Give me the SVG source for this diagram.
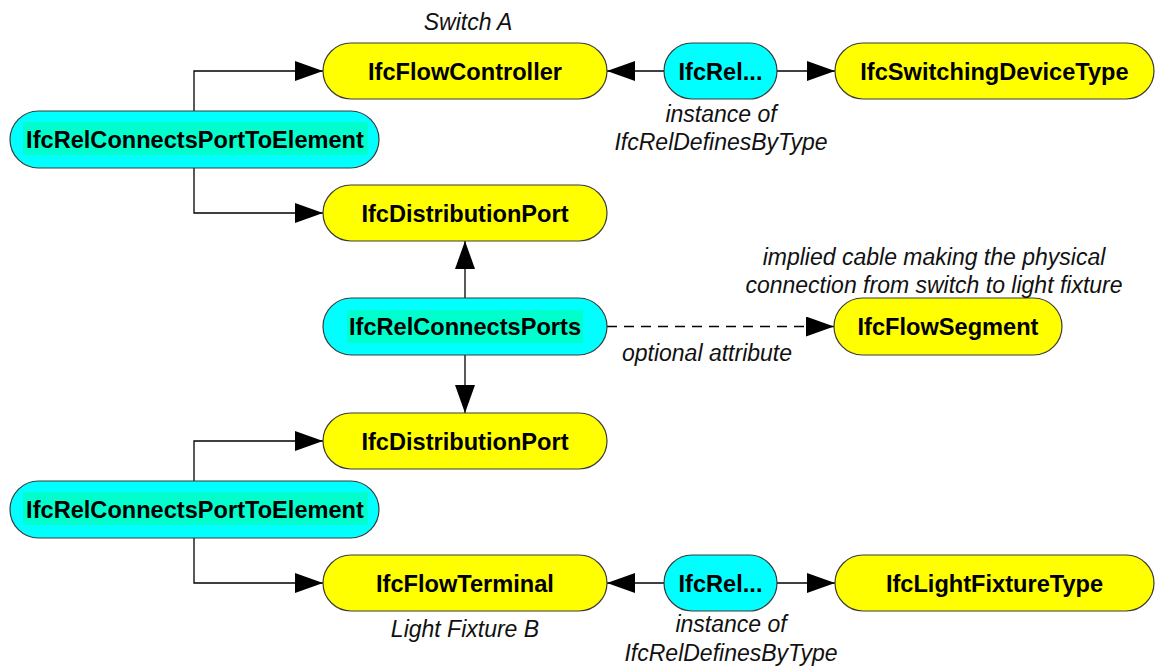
<svg xmlns="http://www.w3.org/2000/svg" width="1156" height="669" viewBox="0 0 1156 669">
  <style>
    .ent { fill: #ffff00; stroke: #3a3a3a; stroke-width: 1.2; }
    .rel { fill: #00ffff; stroke: #3a3a3a; stroke-width: 1.2; }
    .hl { fill: #00ffcc; stroke: none; }
    .name { font-family: "Liberation Sans", Arial, sans-serif; font-weight: bold; font-size: 23.6px; fill: #000; text-anchor: middle; }
    .note { font-family: "Liberation Sans", Arial, sans-serif; font-style: italic; font-size: 23px; fill: #111; text-anchor: middle; }
    .link { fill: none; stroke: #000; stroke-width: 1.3; }
    .dash { stroke-dasharray: 10 7; }
  </style>
  <defs>
    <marker id="arrow" markerUnits="userSpaceOnUse" markerWidth="28" markerHeight="20" refX="28" refY="10" orient="auto">
      <path d="M0,0 L28,10 L0,20 Z" fill="#000"/>
    </marker>
  </defs>

  <rect width="1156" height="669" fill="#ffffff"/>

  <!-- connectors -->
  <g id="connectors">
    <path class="link" d="M194,111 V71 H323" marker-end="url(#arrow)"/>
    <path class="link" d="M194,168 V213 H323" marker-end="url(#arrow)"/>
    <path class="link" d="M664,71 H607" marker-end="url(#arrow)"/>
    <path class="link" d="M777,71 H835" marker-end="url(#arrow)"/>
    <path class="link" d="M465,298 V241" marker-end="url(#arrow)"/>
    <path class="link" d="M465,355 V413" marker-end="url(#arrow)"/>
    <path class="link dash" d="M607,326.5 H834" marker-end="url(#arrow)"/>
    <path class="link" d="M194,481 V441 H323" marker-end="url(#arrow)"/>
    <path class="link" d="M194,538 V583 H323" marker-end="url(#arrow)"/>
    <path class="link" d="M664,583 H607" marker-end="url(#arrow)"/>
    <path class="link" d="M777,583 H835" marker-end="url(#arrow)"/>
  </g>

  <!-- switch side -->
  <g id="flowController">
    <rect class="ent" x="323" y="43" width="284" height="56" rx="28"/>
    <text class="name" x="465" y="79.5">IfcFlowController</text>
  </g>
  <g id="relDefinesByTypeA">
    <rect class="rel" x="664" y="43" width="113" height="56" rx="28"/>
    <text class="name" x="720.5" y="79.5">IfcRel...</text>
  </g>
  <g id="switchingDeviceType">
    <rect class="ent" x="835" y="43" width="319" height="56" rx="28"/>
    <text class="name" x="994.5" y="79.5">IfcSwitchingDeviceType</text>
  </g>
  <g id="portToElementA">
    <rect class="rel" x="10" y="111" width="369" height="57" rx="28.5"/>
    <rect class="hl" x="23" y="122" width="345" height="33"/>
    <text class="name" x="195" y="148">IfcRelConnectsPortToElement</text>
  </g>
  <g id="distributionPortA">
    <rect class="ent" x="323" y="185" width="284" height="56" rx="28"/>
    <text class="name" x="465" y="221.5">IfcDistributionPort</text>
  </g>

  <!-- port connection -->
  <g id="relConnectsPorts">
    <rect class="rel" x="323" y="298" width="284" height="57" rx="28.5"/>
    <rect class="hl" x="347" y="310" width="236" height="33"/>
    <text class="name" x="465" y="335">IfcRelConnectsPorts</text>
  </g>
  <g id="flowSegment">
    <rect class="ent" x="834" y="298" width="228" height="57" rx="28.5"/>
    <text class="name" x="948" y="335">IfcFlowSegment</text>
  </g>

  <!-- light fixture side -->
  <g id="distributionPortB">
    <rect class="ent" x="323" y="413" width="284" height="56" rx="28"/>
    <text class="name" x="465" y="449.5">IfcDistributionPort</text>
  </g>
  <g id="portToElementB">
    <rect class="rel" x="10" y="481" width="369" height="57" rx="28.5"/>
    <rect class="hl" x="23" y="492" width="345" height="33"/>
    <text class="name" x="195" y="518">IfcRelConnectsPortToElement</text>
  </g>
  <g id="flowTerminal">
    <rect class="ent" x="323" y="555" width="284" height="56" rx="28"/>
    <text class="name" x="465" y="591.5">IfcFlowTerminal</text>
  </g>
  <g id="relDefinesByTypeB">
    <rect class="rel" x="664" y="555" width="113" height="56" rx="28"/>
    <text class="name" x="720.5" y="591.5">IfcRel...</text>
  </g>
  <g id="lightFixtureType">
    <rect class="ent" x="835" y="555" width="319" height="56" rx="28"/>
    <text class="name" x="994.5" y="591.5">IfcLightFixtureType</text>
  </g>

  <!-- annotations -->
  <g id="labels">
    <text class="note" x="468" y="30">Switch A</text>
    <text class="note" x="721" y="122">instance of</text>
    <text class="note" x="721" y="150">IfcRelDefinesByType</text>
    <text class="note" x="934" y="265">implied cable making the physical</text>
    <text class="note" x="934" y="293">connection from switch to light fixture</text>
    <text class="note" x="707" y="361">optional attribute</text>
    <text class="note" x="465" y="637">Light Fixture B</text>
    <text class="note" x="731" y="632">instance of</text>
    <text class="note" x="731" y="661">IfcRelDefinesByType</text>
  </g>
</svg>
